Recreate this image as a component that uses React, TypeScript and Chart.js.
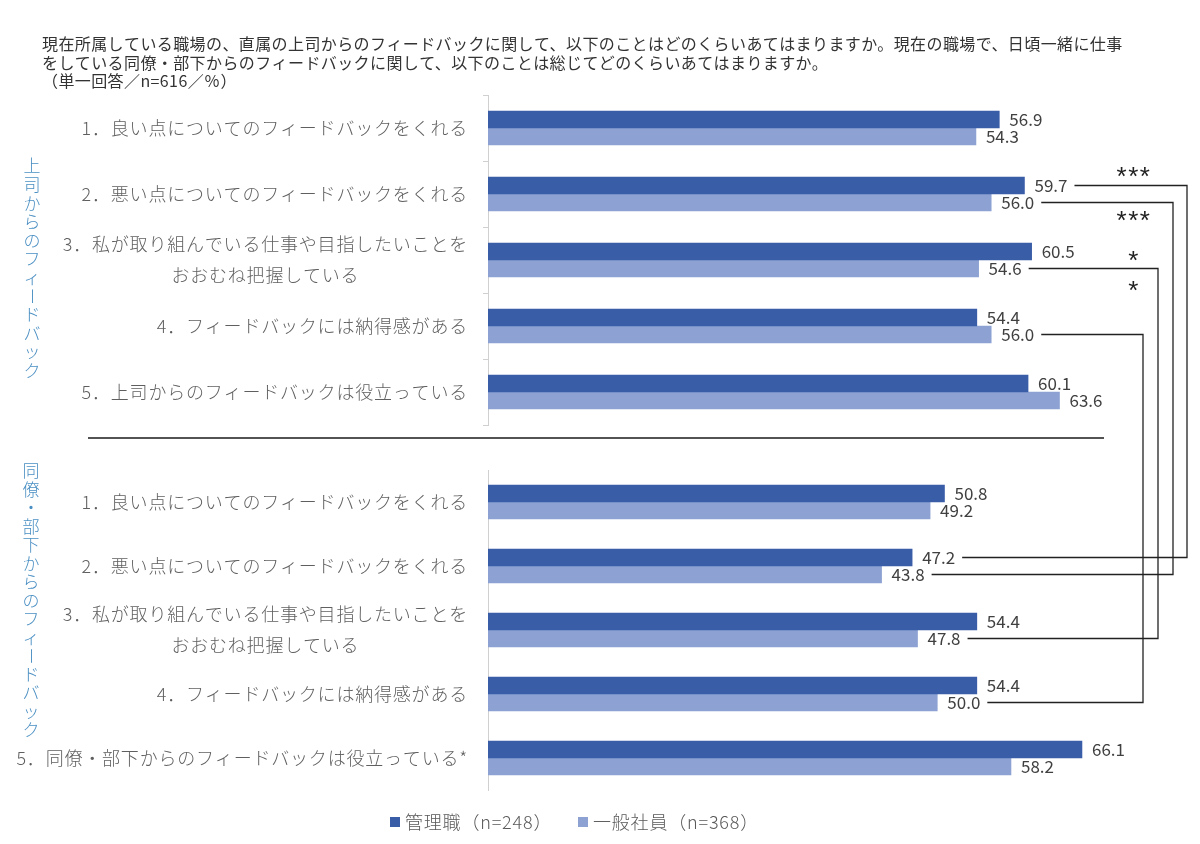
import React, { useEffect, useRef } from "react";
import { Chart, registerables } from "chart.js";

Chart.register(...registerables);

const titleLines = [
  "現在所属している職場の、直属の上司からのフィードバックに関して、以下のことはどのくらいあてはまりますか。現在の職場で、日頃一緒に仕事",
  "をしている同僚・部下からのフィードバックに関して、以下のことは総じてどのくらいあてはまりますか。",
  "（単一回答／n=616／％）",
];
const seriesNames = ["管理職（n=248）", "一般社員（n=368）"];
const upperGroupTitle = "上司からのフィードバック";
const lowerGroupTitle = "同僚・部下からのフィードバック";

const upperCategories = [
  ["1．良い点についてのフィードバックをくれる"],
  ["2．悪い点についてのフィードバックをくれる"],
  ["3．私が取り組んでいる仕事や目指したいことを", "おおむね把握している"],
  ["4．フィードバックには納得感がある"],
  ["5．上司からのフィードバックは役立っている"],
];
const lowerCategories = [
  ["1．良い点についてのフィードバックをくれる"],
  ["2．悪い点についてのフィードバックをくれる"],
  ["3．私が取り組んでいる仕事や目指したいことを", "おおむね把握している"],
  ["4．フィードバックには納得感がある"],
  ["5．同僚・部下からのフィードバックは役立っている*"],
];

const upperManager = [56.9, 59.7, 60.5, 54.4, 60.1];
const upperGeneral = [54.3, 56.0, 54.6, 56.0, 63.6];
const lowerManager = [50.8, 47.2, 54.4, 54.4, 66.1];
const lowerGeneral = [49.2, 43.8, 47.8, 50.0, 58.2];

// significance links between the upper and lower panel (series 0 = 管理職, 1 = 一般社員)
const sigSeries = [0, 1, 1, 1];
const sigItems = [1, 1, 2, 3];
const sigStars = ["***", "***", "*", "*"];

const COLORS = ["#3A5DA8", "#8DA2D3"];
const FONT = '"Noto Sans CJK JP", "Noto Sans", sans-serif';

function categoryLabelPlugin(cats: string[][]) {
  return {
    id: "catLabels",
    afterDraw(chart: any) {
      const ctx = chart.ctx;
      const ys = chart.scales.y;
      const left = chart.chartArea.left;
      ctx.save();
      ctx.font = `300 18px ${FONT}`;
      (ctx as any).letterSpacing = "0.8px";
      ctx.fillStyle = "#5f5f5f";
      ctx.textBaseline = "middle";
      ctx.textAlign = "center";
      cats.forEach((lines, i) => {
        const cy = ys.getPixelForTick(i);
        const right = left - 20;
        const maxW = Math.max(...lines.map((l) => ctx.measureText(l).width));
        lines.forEach((l, j) => {
          const y = cy + (j - (lines.length - 1) / 2) * 31;
          ctx.fillText(l, right - maxW / 2, y);
        });
      });
      ctx.restore();
    },
  };
}

const valueLabelPlugin = {
  id: "valueLabels",
  afterDatasetsDraw(chart: any) {
    const ctx = chart.ctx;
    ctx.save();
    ctx.font = `17px ${FONT}`;
    ctx.fillStyle = "#404040";
    ctx.textBaseline = "middle";
    ctx.textAlign = "left";
    chart.data.datasets.forEach((ds: any, di: number) => {
      const meta = chart.getDatasetMeta(di);
      meta.data.forEach((bar: any, i: number) => {
        ctx.fillText(Number(ds.data[i]).toFixed(1), bar.x + 10, bar.y);
      });
    });
    ctx.restore();
  },
};

function drawVertical(ctx: CanvasRenderingContext2D, text: string, x: number, y0: number, step: number) {
  [...text].forEach((ch, k) => {
    const y = y0 + k * step;
    if (ch === "ー") {
      ctx.save();
      ctx.translate(x, y);
      ctx.rotate(Math.PI / 2);
      ctx.fillText(ch, 0, 0);
      ctx.restore();
    } else {
      ctx.fillText(ch, x, y);
    }
  });
}

function makeConfig(labels: string[][], manager: number[], general: number[], top: number, bottom: number, ticks: boolean, extra: any[]) {
  return {
    type: "bar" as const,
    data: {
      labels: labels.map((l) => l.join(" ")),
      datasets: [
        { label: seriesNames[0], data: manager, backgroundColor: COLORS[0], barThickness: 17 },
        { label: seriesNames[1], data: general, backgroundColor: COLORS[1], barThickness: 17 },
      ],
    },
    options: {
      indexAxis: "y" as const,
      responsive: false,
      animation: false as const,
      events: [],
      layout: { padding: { top, bottom, left: 0, right: 83 } },
      scales: {
        x: { display: false, min: 0, max: 70 },
        y: {
          afterFit: (s: any) => {
            s.width = 488;
          },
          ticks: { display: false },
          grid: { drawOnChartArea: false, offset: true, tickLength: ticks ? 5 : 0, drawTicks: ticks, color: "#d0d0d0" },
          border: { color: "#d0d0d0", width: 1 },
        },
      },
      plugins: { legend: { display: false }, tooltip: { enabled: false } },
    },
    plugins: [categoryLabelPlugin(labels), valueLabelPlugin, ...extra],
  };
}

export default function App() {
  const c1 = useRef<HTMLCanvasElement>(null);
  const c2 = useRef<HTMLCanvasElement>(null);

  useEffect(() => {
    const holder: { upper: any } = { upper: null };
    const upper = new Chart(c1.current!, makeConfig(upperCategories, upperManager, upperGeneral, 95, 844 - 425, true, []) as any);
    holder.upper = upper;

    const overlay = {
      id: "overlay",
      afterDraw(chart: any) {
        const ctx: CanvasRenderingContext2D = chart.ctx;
        const up = holder.upper;
        ctx.save();
        // title
        ctx.font = `16px ${FONT}`;
        (ctx as any).letterSpacing = "0.4px";
        ctx.fillStyle = "#333333";
        ctx.textAlign = "left";
        ctx.textBaseline = "middle";
        const titleY = [44, 63, 81];
        titleLines.forEach((t, i) => ctx.fillText(t, 42, titleY[i]));
        (ctx as any).letterSpacing = "0px";

        // separator line
        ctx.strokeStyle = "#1a1a1a";
        ctx.lineWidth = 1.5;
        ctx.beginPath();
        ctx.moveTo(88, 438);
        ctx.lineTo(1104, 438);
        ctx.stroke();

        // vertical group titles
        ctx.font = `300 17px ${FONT}`;
        ctx.fillStyle = "#4A8FC2";
        ctx.textAlign = "center";
        ctx.textBaseline = "middle";
        drawVertical(ctx, upperGroupTitle, 32, 166, 18.6);
        drawVertical(ctx, lowerGroupTitle, 31, 471, 18.5);

        // significance lines
        if (up) {
          const upperVals = [upperManager, upperGeneral];
          const lowerVals = [lowerManager, lowerGeneral];
          const vx = [1187, 1173, 1158, 1143];
          const starDy = [-13, 14, -12, -48];
          ctx.font = `17px ${FONT}`;
          ctx.strokeStyle = "#222222";
          ctx.lineWidth = 1.3;
          sigSeries.forEach((s, k) => {
            const it = sigItems[k];
            const bu = up.getDatasetMeta(s).data[it];
            const bl = chart.getDatasetMeta(s).data[it];
            const wu = ctx.measureText(upperVals[s][it].toFixed(1)).width;
            const wl = ctx.measureText(lowerVals[s][it].toFixed(1)).width;
            const xu = bu.x + 10 + wu + 7;
            const xl = bl.x + 10 + wl + 7;
            ctx.beginPath();
            ctx.moveTo(xu, bu.y);
            ctx.lineTo(vx[k], bu.y);
            ctx.lineTo(vx[k], bl.y);
            ctx.lineTo(xl, bl.y);
            ctx.stroke();
          });
          ctx.fillStyle = "#222222";
          ctx.font = `26px "Liberation Sans", Arial, sans-serif`;
          (ctx as any).letterSpacing = "1.5px";
          ctx.textAlign = "center";
          ctx.textBaseline = "alphabetic";
          sigSeries.forEach((s, k) => {
            const bu = up.getDatasetMeta(s).data[sigItems[k]];
            ctx.fillText(sigStars[k], 1134, bu.y + starDy[k] + 12);
          });
          (ctx as any).letterSpacing = "0px";
        }

        // legend
        ctx.font = `300 18px ${FONT}`;
        (ctx as any).letterSpacing = "0.8px";
        ctx.textAlign = "left";
        ctx.textBaseline = "middle";
        const legX = [390, 578];
        seriesNames.forEach((n, i) => {
          ctx.fillStyle = COLORS[i];
          ctx.fillRect(legX[i], 817, 10, 10);
          ctx.fillStyle = "#595959";
          ctx.fillText(n, legX[i] + 15, 822);
        });
        ctx.restore();
      },
    };

    const lower = new Chart(c2.current!, makeConfig(lowerCategories, lowerManager, lowerGeneral, 470, 844 - 790, false, [overlay]) as any);
    return () => {
      lower.destroy();
      upper.destroy();
    };
  }, []);

  return (
    <div style={{ position: "fixed", left: 0, top: 0, width: 1200, height: 844, background: "#ffffff" }}>
      <canvas ref={c1} width={1200} height={844} style={{ position: "absolute", left: 0, top: 0 }} />
      <canvas ref={c2} width={1200} height={844} style={{ position: "absolute", left: 0, top: 0 }} />
    </div>
  );
}
